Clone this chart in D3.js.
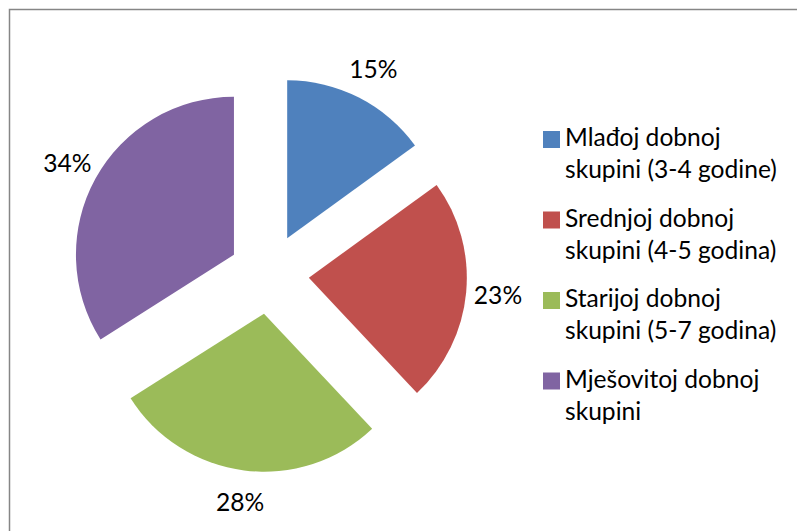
<!DOCTYPE html>
<html>
<head>
<meta charset="utf-8">
<script src="https://cdn.jsdelivr.net/npm/d3@7"></script>
<style>
  body { margin: 0; background: #fff; }
  text { font-family: Lato, "Open Sans", sans-serif; fill: #000; }
</style>
</head>
<body>
<script>
// chart data
var categories = ["Mlađoj dobnoj skupini (3-4 godine)",
                  "Srednjoj dobnoj skupini (4-5 godina)",
                  "Starijoj dobnoj skupini (5-7 godina)",
                  "Mješovitoj dobnoj skupini"];
var values = [15, 23, 28, 34];
var colors = ["#4F81BD", "#C0504D", "#9BBB59", "#8064A2"];

(function draw(){
  var width = 797, height = 531;
  var cx = 269, cy = 274, radius = 158, explode = 40;

  var svg = d3.select("body").append("svg")
    .attr("width", width)
    .attr("height", height);

  //chart frame (right and bottom edges run off the picture)
  svg.append("rect")
    .attr("x", 9.5).attr("y", 9.5)
    .attr("width", 820).attr("height", 560)
    .attr("fill", "none")
    .attr("stroke", "#868686")
    .attr("stroke-width", 1.5);

  //fit the font size so the widest legend line matches the original width
  var probe = svg.append("text").style("font-size", "26px").text("skupini (3-4 godine)");
  var fontSize = 26 * 212 / probe.node().getComputedTextLength();
  probe.remove();

  var pie = d3.pie().sort(null).value(function(d){ return d; });
  var arcs = pie(values);
  var arc = d3.arc().innerRadius(0).outerRadius(radius);
  var fmt = d3.format(".0%");
  var total = d3.sum(values);

  var g = svg.append("g").attr("transform", "translate(" + cx + "," + cy + ")");

  var slices = g.selectAll(".slice")
    .data(arcs)
    .enter()
    .append("g")
    .attr("class", "slice")
    .attr("transform", function(d){
      var mid = (d.startAngle + d.endAngle) / 2;
      return "translate(" + (explode * Math.sin(mid)) + "," + (-explode * Math.cos(mid)) + ")";
    });

  slices.append("path")
    .attr("d", arc)
    .attr("fill", function(d, i){ return colors[i]; });

  //percent labels just outside each slice
  slices.append("text")
    .attr("x", function(d){ return (radius + 32) * Math.sin((d.startAngle + d.endAngle) / 2); })
    .attr("y", function(d){ return -(radius + 32) * Math.cos((d.startAngle + d.endAngle) / 2); })
    .attr("text-anchor", "middle")
    .attr("dy", "0.35em")
    .style("font-size", fontSize + "px")
    .text(function(d){ return fmt(d.value / total); });

  //legend
  var legend = svg.append("g").attr("class", "legend");
  var itemStep = 80.5, lineStep = 32, firstBase = 146;

  categories.forEach(function(name, i){
    var base = firstBase + i * itemStep;
    legend.append("rect")
      .attr("x", 543).attr("y", base - 15)
      .attr("width", 17).attr("height", 17)
      .attr("fill", colors[i]);

    var t = legend.append("text")
      .attr("x", 565).attr("y", base)
      .style("font-size", fontSize + "px");

    //wrap words at about 220px like the original legend
    var words = name.split(" "), line = [], lineNo = 0;
    var tspan = t.append("tspan").attr("x", 565).attr("y", base);
    words.forEach(function(w){
      line.push(w);
      tspan.text(line.join(" "));
      if (tspan.node().getComputedTextLength() > 220 && line.length > 1) {
        line.pop();
        tspan.text(line.join(" "));
        line = [w];
        lineNo++;
        tspan = t.append("tspan").attr("x", 565).attr("y", base + lineNo * lineStep).text(w);
      }
    });
  });
})();
</script>
</body>
</html>
